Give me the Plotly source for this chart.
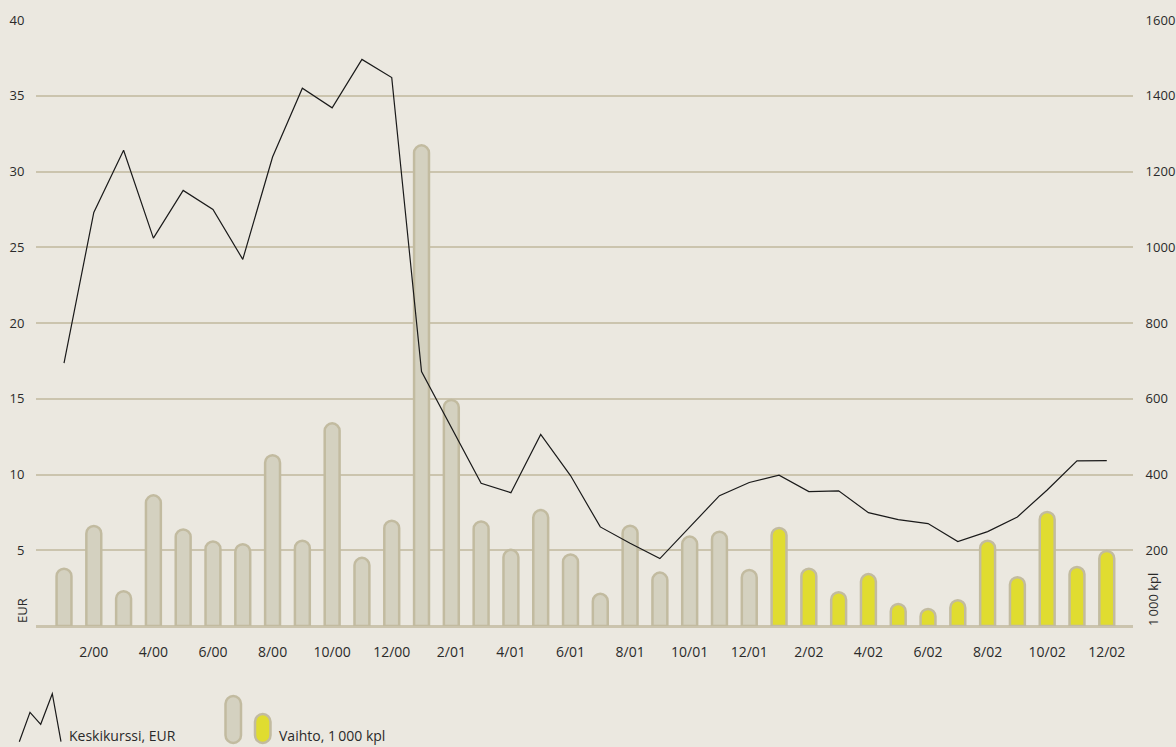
import plotly.graph_objects as go

# ---- data ----
months = [f"{m}/{y}" for y in ["00", "01", "02"] for m in range(1, 13)]
volume_kpl = [151, 264, 92, 345, 255, 223, 216, 451, 225, 535, 180, 278,
              1269, 597, 276, 201, 306, 189, 85, 265, 141, 236, 249, 148,
              259, 151, 89, 137, 58, 45, 68, 225, 129, 301, 156, 198]
price_eur = [17.35, 27.3, 31.4, 25.6, 28.75, 27.5, 24.2, 30.96, 35.5, 34.2, 37.4, 36.2,
             16.8, 13.1, 9.42, 8.8, 12.64, 9.93, 6.54, 5.46, 4.45, 6.53, 8.6, 9.47,
             9.95, 8.87, 8.92, 7.48, 7.02, 6.76, 5.57, 6.23, 7.2, 8.98, 10.9, 10.92]
tick_labels = [m if i % 2 == 1 else "" for i, m in enumerate(months)]
eur_ticks = [5, 10, 15, 20, 25, 30, 35, 40]
kpl_ticks = [200, 400, 600, 800, 1000, 1200, 1400, 1600]

BG = "#ebe8e0"
GRID = "#cbc4ae"
GRAY_FILL = "#d4d1c0"
YELLOW_FILL = "#e0dc30"
OUTLINE = "#c2bba0"
TXT = "#2a2a2a"
FONT = "Open Sans"
FS = 14
FSY = 13

xs = list(range(len(months)))
bar_colors = [GRAY_FILL if i < 24 else YELLOW_FILL for i in xs]

fig = go.Figure()
fig.add_trace(go.Bar(
    x=xs, y=volume_kpl, yaxis="y", width=0.5,
    marker=dict(color=bar_colors, line=dict(color=OUTLINE, width=2.5), cornerradius="50%"),
    showlegend=False, hoverinfo="skip"))
fig.add_trace(go.Scatter(
    x=xs, y=price_eur, yaxis="y2", mode="lines",
    line=dict(color="#1a1a1a", width=1.2), showlegend=False, hoverinfo="skip"))

# plot area in pixels
L, R, T, B = 36, 1133, 20, 626
W, H = 1176, 747

def px(x):
    return (x - L) / (R - L)

def py(y):
    return (B - y) / (B - T)

def pill(x0, x1, y0, y1):
    r = (x1 - x0) / 2
    k = 0.5523 * r
    pts = [
        f"M{px(x0)},{py(y1 - r)}",
        f"L{px(x0)},{py(y0 + r)}",
        f"C{px(x0)},{py(y0 + r - k)} {px(x0 + r - k)},{py(y0)} {px(x0 + r)},{py(y0)}",
        f"C{px(x0 + r + k)},{py(y0)} {px(x1)},{py(y0 + r - k)} {px(x1)},{py(y0 + r)}",
        f"L{px(x1)},{py(y1 - r)}",
        f"C{px(x1)},{py(y1 - r + k)} {px(x1 - r + k)},{py(y1)} {px(x1 - r)},{py(y1)}",
        f"C{px(x0 + r - k)},{py(y1)} {px(x0)},{py(y1 - r + k)} {px(x0)},{py(y1 - r)}",
        "Z",
    ]
    return " ".join(pts)

zig = [(19.3, 741.7), (30, 712.3), (40.7, 724.3), (52.3, 693.7), (61, 741.7)]
zig_path = "M" + " L".join(f"{px(a)},{py(b)}" for a, b in zig)

shapes = [
    dict(type="path", xref="paper", yref="paper", path=zig_path,
         line=dict(color="#1a1a1a", width=1.2)),
    dict(type="path", xref="paper", yref="paper", path=pill(225.5, 241, 696, 743),
         fillcolor=GRAY_FILL, line=dict(color=OUTLINE, width=2.5)),
    dict(type="path", xref="paper", yref="paper", path=pill(255, 270.5, 714, 743),
         fillcolor=YELLOW_FILL, line=dict(color=OUTLINE, width=2.5)),
]

annotations = [
    dict(text="Keskikurssi, EUR", xref="paper", yref="paper", x=px(67), y=py(735),
         xanchor="left", yanchor="middle", showarrow=False,
         font=dict(family=FONT, size=FS, color=TXT)),
    dict(text="Vaihto, 1\u2009000 kpl", xref="paper", yref="paper", x=px(277), y=py(735),
         xanchor="left", yanchor="middle", showarrow=False,
         font=dict(family=FONT, size=FS, color=TXT)),
    dict(text="EUR", xref="paper", yref="paper", x=px(22), y=py(611),
         xanchor="center", yanchor="middle", textangle=-90, showarrow=False,
         font=dict(family=FONT, size=FSY, color=TXT)),
    dict(text="1\u2009000 kpl", xref="paper", yref="paper", x=px(1153), y=py(600),
         xanchor="center", yanchor="middle", textangle=-90, showarrow=False,
         font=dict(family=FONT, size=FSY, color=TXT)),
]

fig.update_layout(
    width=W, height=H,
    margin=dict(l=L, r=W - R, t=T, b=H - B, pad=0, autoexpand=False),
    paper_bgcolor=BG, plot_bgcolor=BG,
    font=dict(family=FONT, size=FS, color=TXT),
    xaxis=dict(range=[-0.94, 35.88], tickmode="array", tickvals=xs, ticktext=tick_labels,
               showgrid=False, zeroline=False, showline=False, automargin=False,
               ticks="outside", ticklen=13, tickcolor="rgba(0,0,0,0)",
               tickfont=dict(family=FONT, size=FS, color=TXT)),
    yaxis=dict(range=[0, 1600], side="right", tickmode="array", tickvals=kpl_ticks,
               showgrid=True, gridcolor=GRID, gridwidth=1.5, automargin=False,
               zeroline=True, zerolinecolor=GRID, zerolinewidth=2.5, showline=False,
               ticks="outside", ticklen=9, tickcolor="rgba(0,0,0,0)",
               tickfont=dict(family=FONT, size=FSY, color=TXT)),
    yaxis2=dict(range=[0, 40], side="left", overlaying="y", tickmode="array",
                tickvals=eur_ticks, showgrid=False, zeroline=False, showline=False,
                automargin=False,
                ticks="outside", ticklen=8, tickcolor="rgba(0,0,0,0)",
                tickfont=dict(family=FONT, size=FSY, color=TXT)),
    shapes=shapes, annotations=annotations,
    bargap=0.5,
)

fig.write_html(
    "out.html",
    config={"displayModeBar": False},
    post_script="document.body.style.margin='0';document.body.style.background='#ebe8e0';",
)
